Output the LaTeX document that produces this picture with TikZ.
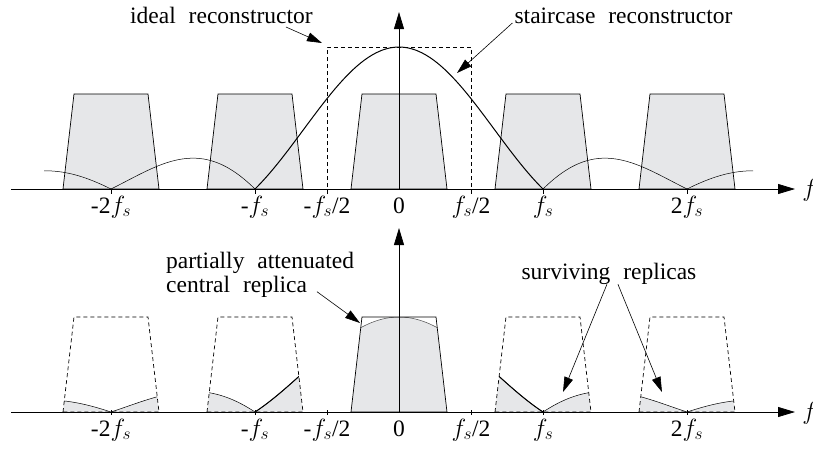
\documentclass[tikz,border=0pt]{standalone}
\usepackage{fontspec}
\setmainfont{Liberation Serif}
\newfontfamily\notefont[WordSpace=2.2]{Liberation Serif}
\usetikzlibrary{arrows.meta, positioning}
\definecolor{replicagray}{RGB}{230,231,233}
\newcommand{\fsub}{$f_s$}
\newcommand{\trap}[1]{(#1-1/3,0) -- (#1-0.257,95) -- (#1+0.257,95) -- (#1+1/3,0) -- cycle}
\pgfmathdeclarefunction{hsinc}{1}{\pgfmathparse{abs(sin(180*#1)/(pi*#1))}}
\tikzset{
    replica/.style = {draw, fill=replicagray, line width=0.7pt},
    ghost/.style = {draw, line width=0.7pt, dash pattern=on 4pt off 3pt},
    sidelobe/.style = {line width=0.5pt},
    mainlobe/.style = {line width=1pt},
    axis/.style = {line width=0.8pt, -{Triangle[length=17pt,width=10pt]}},
    pointer/.style = {line width=0.6pt, -{Triangle[length=15pt,width=9pt]}},
    ticklabel/.style = {font=\rmfamily\fontsize{23.5}{26}\selectfont, anchor=base, inner sep=0pt},
    note/.style = {font=\notefont\fontsize{23.5}{24}\selectfont, inner sep=0pt, align=left}
}

\begin{document}
\begin{tikzpicture}[x=144pt, y=1pt]
\useasboundingbox (-399/144,189) rectangle (414/144,-259);

% Top: replicas and reconstructors
\foreach \c in {-2,-1,0,1,2}
    \filldraw[replica] \trap{\c};

\draw[sidelobe] plot[domain=-2.465:-2, samples=20] (\x,{142*hsinc(\x)});
\draw[sidelobe] plot[domain=-2:-1, samples=40] (\x,{142*hsinc(\x)});
\draw[mainlobe] plot[domain=-1:1, samples=80] (\x,{142*hsinc(\x)});
\draw[sidelobe] plot[domain=1:2, samples=40] (\x,{142*hsinc(\x)});
\draw[sidelobe] plot[domain=2:2.46, samples=20] (\x,{142*hsinc(\x)});

\draw[ghost] (-0.5,-5) -- (-0.5,142) -- (0.5,142) -- (0.5,-5);

\foreach \c in {-2,-1,1,2}
    \draw[line width=0.6pt] (\c,0) -- (\c,-5);

\draw[axis] (-2.694,0) -- (2.75,0);
\draw[axis] (0,0) -- (0,177);

% Top labels
\node[ticklabel] (tm2) at (-2,-24) {-2\fsub};
\node[ticklabel] (tm1) at (-1,-24) {-\fsub};
\node[ticklabel] (tmh) at (-0.5,-24) {-\fsub/2};
\node[ticklabel] (tz) at (0,-24) {0};
\node[ticklabel] (tph) at (0.5,-24) {\fsub/2};
\node[ticklabel] (tp1) at (1,-24) {\fsub};
\node[ticklabel] (tp2) at (2,-24) {2\fsub};
\node[ticklabel, anchor=base west] (tf) at (2.8,-7) {$f$};

\node[note, anchor=base] (ideal) at (-1.233,166) {ideal reconstructor};
\node[note, anchor=base] (stair) at (1.559,166) {staircase reconstructor};
\coordinate (idealtip) at (-0.535,146);
\coordinate (stairtip) at (0.403,116);

\draw[pointer] ([shift={(-27pt,-4pt)}]ideal.base east) -- (idealtip);
\draw[pointer] ([shift={(-2pt,0pt)}]stair.base west) -- (stairtip);

% Bottom: reconstructed spectrum
\begin{scope}[yshift=-223pt]
\foreach \c in {-2,-1,1,2} {
    \pgfmathsetmacro{\lo}{\c-1/3}
    \pgfmathsetmacro{\hi}{\c+1/3}
    \begin{scope}
        \clip \trap{\c};
        \fill[replicagray] (\lo,0) -- plot[domain=\lo:\c, samples=20] (\x,{95*hsinc(\x)})
            -- plot[domain=\c:\hi, samples=20] (\x,{95*hsinc(\x)}) -- (\hi,0) -- cycle;
        \draw[sidelobe] plot[domain=\lo:\c, samples=20] (\x,{95*hsinc(\x)});
        \draw[sidelobe] plot[domain=\c:\hi, samples=20] (\x,{95*hsinc(\x)});
    \end{scope}
    \draw[ghost] \trap{\c};
}
\begin{scope}
    \clip \trap{-1};
    \draw[mainlobe] plot[domain=-1:-2/3, samples=20] (\x,{95*hsinc(\x)});
\end{scope}
\begin{scope}
    \clip \trap{1};
    \draw[mainlobe] plot[domain=2/3:1, samples=20] (\x,{95*hsinc(\x)});
\end{scope}

\begin{scope}
    \clip \trap{0};
    \fill[replicagray] (-1/3,0) -- plot[domain=-1/3:1/3, samples=40] (\x,{95*hsinc(\x)}) -- (1/3,0) -- cycle;
    \draw[sidelobe, black!70] plot[domain=-1/3:1/3, samples=40] (\x,{95*hsinc(\x)});
\end{scope}
\draw[replica, fill=none] \trap{0};

\foreach \c in {-2,-1,-0.5,0.5,1,2}
    \draw[line width=0.6pt] (\c,2) -- (\c,-3);

\draw[axis] (-2.694,0) -- (2.75,0);
\draw[axis] (0,0) -- (0,184);

% Bottom labels
\node[ticklabel] (bm2) at (-2,-24) {-2\fsub};
\node[ticklabel] (bm1) at (-1,-24) {-\fsub};
\node[ticklabel] (bmh) at (-0.5,-24) {-\fsub/2};
\node[ticklabel] (bz) at (0,-24) {0};
\node[ticklabel] (bph) at (0.5,-24) {\fsub/2};
\node[ticklabel] (bp1) at (1,-24) {\fsub};
\node[ticklabel] (bp2) at (2,-24) {2\fsub};
\node[ticklabel, anchor=base west] (bf) at (2.8,-7) {$f$};

\node[note, anchor=north west] (partial) at (-1.618,160) {partially attenuated\\central replica};
\node[note, anchor=base] (surv) at (1.458,133) {surviving replicas};
\coordinate (partialtip) at (-0.271,89);
\coordinate (survtipa) at (1.139,20);
\coordinate (survtipb) at (1.826,20);

\draw[pointer] ([shift={(151pt,6pt)}]partial.south west) -- (partialtip);
\draw[pointer] ([xshift=-2pt]surv.south) -- (survtipa);
\draw[pointer] ([xshift=9pt]surv.south) -- (survtipb);
\end{scope}
\end{tikzpicture}
\end{document}
